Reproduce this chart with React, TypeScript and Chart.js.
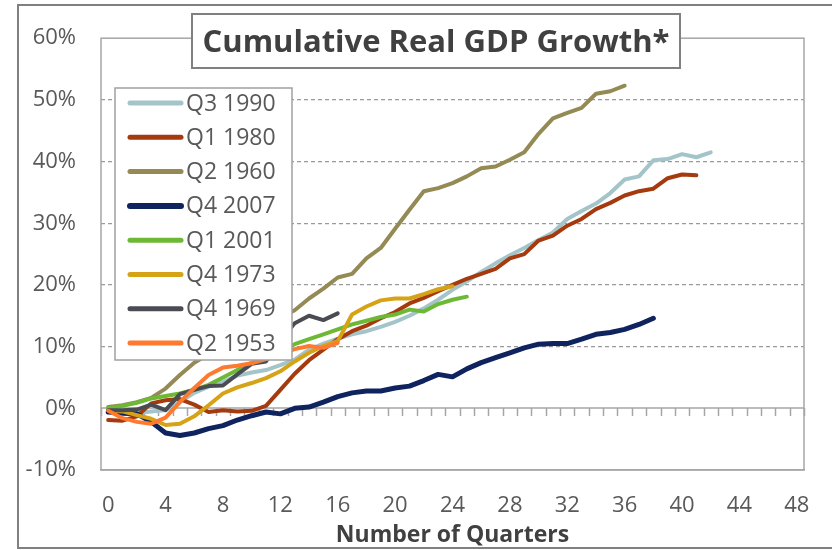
import React, { useEffect, useRef } from 'react';
import { Chart, registerables } from 'chart.js';

Chart.register(...registerables);

// ---- Data ----
const quarters = [
  '0', '1', '2', '3', '4', '5', '6', '7', '8', '9', '10', '11', '12', '13', '14', '15', '16',
  '17', '18', '19', '20', '21', '22', '23', '24', '25', '26', '27', '28', '29', '30', '31', '32',
  '33', '34', '35', '36', '37', '38', '39', '40', '41', '42', '43', '44', '45', '46', '47', '48',
];
const xTickLabels = ['0', '4', '8', '12', '16', '20', '24', '28', '32', '36', '40', '44', '48'];

const seriesNames = ['Q3 1990', 'Q1 1980', 'Q2 1960', 'Q4 2007', 'Q1 2001', 'Q4 1973', 'Q4 1969', 'Q2 1953'];
const seriesColors = ['#A3C5CA', '#A53A0E', '#948A54', '#0F235E', '#6DB935', '#D6A316', '#4A4C53', '#FF7A2F'];
const seriesWidths = [4, 4, 4, 5, 4, 4, 4, 4];

const q3_1990 = [0.0, -0.3, -0.8, -0.5, -0.3, 1.0, 2.5, 3.5, 4.3, 5.3, 5.8, 6.2, 7.0, 7.9, 9.5, 10.5, 11.3, 12.0, 12.5, 13.2, 14.0, 15.0, 16.2, 17.6, 19.2, 20.6, 22.1, 23.5, 24.8, 26.0, 27.3, 28.5, 30.7, 32.0, 33.2, 34.9, 37.1, 37.6, 40.2, 40.4, 41.2, 40.7, 41.5];
const q1_1980 = [-1.9, -2.0, -1.3, 0.8, 1.3, 1.5, 0.6, -0.6, -0.3, -0.5, -0.4, 0.4, 3.0, 5.6, 7.8, 9.5, 11.2, 12.5, 13.4, 14.6, 15.6, 17.0, 17.9, 19.0, 20.0, 21.0, 21.8, 22.6, 24.3, 25.0, 27.2, 28.0, 29.6, 30.7, 32.3, 33.3, 34.5, 35.2, 35.6, 37.3, 37.9, 37.8];
const q2_1960 = [0.2, 0.5, 1.0, 1.7, 3.2, 5.4, 7.4, 8.8, 10.0, 11.2, 12.4, 13.6, 14.7, 15.9, 17.8, 19.4, 21.2, 21.8, 24.3, 26.0, 29.1, 32.2, 35.2, 35.7, 36.5, 37.6, 38.9, 39.2, 40.3, 41.5, 44.5, 47.0, 47.9, 48.7, 51.0, 51.4, 52.3];
const q4_2007 = [-0.6, -0.8, -0.9, -2.2, -4.0, -4.4, -4.0, -3.3, -2.8, -1.9, -1.2, -0.6, -0.9, 0.0, 0.2, 1.0, 1.9, 2.5, 2.8, 2.8, 3.3, 3.6, 4.5, 5.5, 5.1, 6.4, 7.4, 8.2, 9.0, 9.8, 10.4, 10.5, 10.5, 11.2, 12.0, 12.3, 12.8, 13.6, 14.6];
const q1_2001 = [0.0, 0.4, 0.9, 1.6, 2.0, 2.4, 3.0, 3.8, 5.0, 6.2, 7.4, 8.0, 9.0, 10.4, 11.2, 12.0, 12.8, 13.6, 14.2, 14.8, 15.2, 16.0, 15.7, 16.9, 17.6, 18.1];
const q4_1973 = [-0.3, -0.5, -1.1, -1.7, -2.7, -2.5, -1.3, 0.5, 2.4, 3.4, 4.1, 4.9, 6.0, 7.6, 9.0, 10.1, 10.9, 15.2, 16.5, 17.5, 17.8, 17.8, 18.5, 19.3, 19.8];
const q4_1969 = [-0.3, -0.3, -0.2, 0.6, -0.3, 2.3, 3.0, 3.6, 3.7, 5.5, 7.2, 7.6, 11.0, 13.8, 15.0, 14.3, 15.4];
const q2_1953 = [-0.4, -1.6, -2.2, -2.5, -1.5, 1.0, 3.3, 5.4, 6.6, 6.9, 7.3, 8.0, 8.8, 9.6, 10.1, 9.8, 10.6];

const seriesValues = [q3_1990, q1_1980, q2_1960, q4_2007, q1_2001, q4_1973, q4_1969, q2_1953];

const titleText = 'Cumulative Real GDP Growth*';
const xAxisTitle = 'Number of Quarters';

const FONT = '"Open Sans", "Noto Sans", sans-serif';

const decorPlugin = {
  id: 'decor',
  beforeDraw(chart: any) {
    const ctx = chart.ctx;
    ctx.save();
    ctx.fillStyle = '#ffffff';
    ctx.fillRect(0, 0, chart.width, chart.height);
    ctx.strokeStyle = '#808080';
    ctx.lineWidth = 2;
    ctx.strokeRect(18, 5, 900, 543);
    ctx.restore();
  },
  beforeDatasetsDraw(chart: any) {
    const { ctx, chartArea: a, scales } = chart;
    const x = scales.x;
    const y = scales.y;
    ctx.save();
    ctx.strokeStyle = '#a6a6a6';
    ctx.lineWidth = 1.5;
    ctx.strokeRect(a.left, a.top, a.right - a.left, a.bottom - a.top);
    const y0 = Math.round(y.getPixelForValue(0));
    ctx.beginPath();
    ctx.moveTo(a.left, y0);
    ctx.lineTo(a.right, y0);
    const x0 = x.getPixelForValue(0);
    const w = x.getPixelForValue(1) - x0;
    for (let i = 0; i <= quarters.length; i++) {
      const px = Math.round(x0 + (i - 0.5) * w) + 0.5;
      ctx.moveTo(px, y0);
      ctx.lineTo(px, y0 + 8);
    }
    ctx.stroke();
    ctx.restore();
  },
  afterDatasetsDraw(chart: any) {
    const ctx = chart.ctx;
    ctx.save();
    // Title box
    ctx.fillStyle = '#ffffff';
    ctx.fillRect(192, 14, 488, 54);
    ctx.strokeStyle = '#808080';
    ctx.lineWidth = 2;
    ctx.strokeRect(192, 14, 488, 54);
    ctx.fillStyle = '#404040';
    ctx.font = `bold 31px ${FONT}`;
    ctx.textAlign = 'center';
    ctx.textBaseline = 'middle';
    ctx.fillText(titleText, 436, 43);

    // Legend box
    ctx.fillStyle = '#ffffff';
    ctx.fillRect(115, 88, 177, 272);
    ctx.strokeStyle = '#a0a0a0';
    ctx.lineWidth = 1.5;
    ctx.strokeRect(115, 88, 177, 272);
    ctx.font = `23px ${FONT}`;
    ctx.textAlign = 'left';
    ctx.textBaseline = 'middle';
    seriesNames.forEach((name, i) => {
      const cy = 103 + i * 34.3;
      ctx.strokeStyle = seriesColors[i];
      ctx.lineWidth = seriesWidths[i] + 1;
      ctx.lineCap = 'round';
      ctx.beginPath();
      ctx.moveTo(130, cy);
      ctx.lineTo(181, cy);
      ctx.stroke();
      ctx.fillStyle = '#595959';
      ctx.fillText(name, 186, cy + 1);
    });
    ctx.restore();
  },
};

export default function App() {
  const canvasRef = useRef<HTMLCanvasElement | null>(null);

  useEffect(() => {
    if (!canvasRef.current) return;
    const datasets = seriesNames.map((name, i) => ({
      label: name,
      data: seriesValues[i],
      borderColor: seriesColors[i],
      backgroundColor: seriesColors[i],
      borderWidth: seriesWidths[i],
      pointRadius: 0,
      pointHoverRadius: 0,
      tension: 0,
      fill: false,
      borderJoinStyle: 'round' as const,
      borderCapStyle: 'round' as const,
      order: seriesNames.length - i,
    }));

    const chart = new Chart(canvasRef.current, {
      type: 'line',
      data: { labels: quarters, datasets },
      options: {
        responsive: false,
        animation: false,
        devicePixelRatio: 1,
        layout: { padding: { top: 33, right: 28, left: 0, bottom: 0 } },
        plugins: {
          legend: { display: false },
          title: { display: false },
          tooltip: { enabled: false },
        },
        scales: {
          x: {
            type: 'category',
            offset: true,
            grid: { display: false },
            border: { display: true, color: '#a6a6a6', width: 1.5 },
            ticks: {
              autoSkip: false,
              maxRotation: 0,
              minRotation: 0,
              padding: 15,
              color: '#595959',
              font: { family: FONT, size: 22 },
              callback: (_v: any, i: number) => (i % 4 === 0 ? xTickLabels[i / 4] : ''),
            },
            title: {
              display: true,
              text: xAxisTitle,
              color: '#404040',
              font: { family: FONT, size: 23, weight: 'bold' },
              padding: { top: 0, bottom: 1 },
            },
            afterFit: (s: any) => {
              s.height = 80;
            },
          },
          y: {
            type: 'linear',
            min: -10,
            max: 60,
            ticks: {
              stepSize: 10,
              padding: 25,
              color: '#595959',
              font: { family: FONT, size: 22 },
              callback: (v: any) => `${v}%`,
            },
            grid: {
              drawTicks: false,
              lineWidth: 1.25,
              color: (c: any) => {
                const v = c.tick ? c.tick.value : null;
                return v === 0 || v === 60 || v === -10 ? 'rgba(0,0,0,0)' : '#9a9a9a';
              },
            },
            border: { display: false, dash: [4, 3] },
            afterFit: (s: any) => {
              s.width = 101;
            },
          },
        },
      },
      plugins: [decorPlugin],
    } as any);

    let alive = true;
    if ((document as any).fonts && (document as any).fonts.ready) {
      (document as any).fonts.ready.then(() => {
        if (alive) chart.draw();
      });
    }
    return () => {
      alive = false;
      chart.destroy();
    };
  }, []);

  return (
    <div style={{ position: 'absolute', left: 0, top: 0, width: 832, height: 550, background: '#fff' }}>
      <canvas ref={canvasRef} width={832} height={550} style={{ display: 'block' }} />
    </div>
  );
}
